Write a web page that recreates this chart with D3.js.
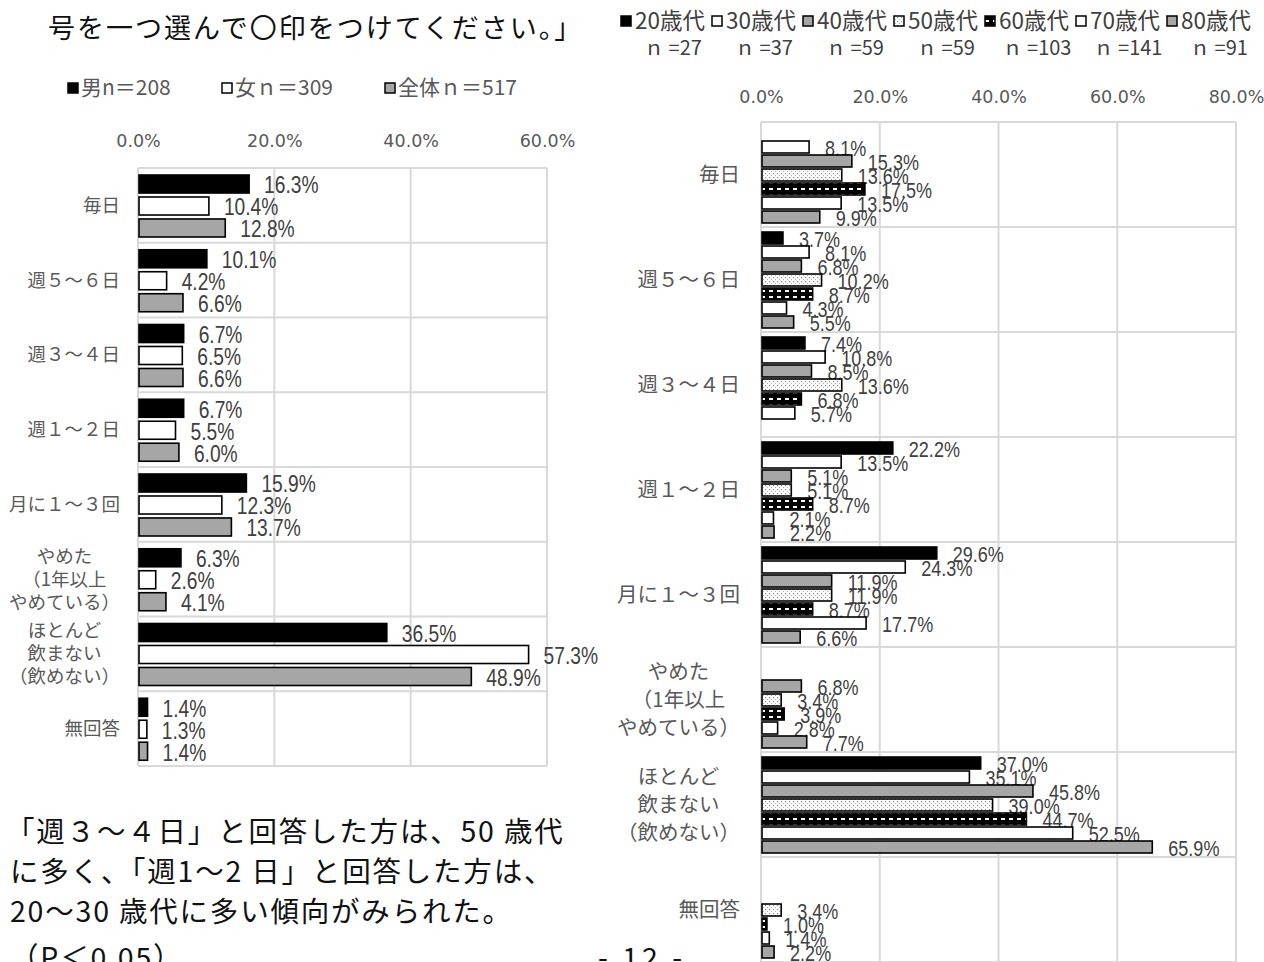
<!DOCTYPE html>
<html>
<head>
<meta charset="utf-8">
<script src="https://cdn.jsdelivr.net/npm/d3@7"></script>
<style>
  body { margin: 0; background: #fff; overflow: hidden; }
  svg { display: block; }
  .jp { font-family: 'Noto Sans CJK JP', sans-serif; }
  .num { font-family: 'Liberation Sans', Arial, sans-serif; }
  .tick { font-family: 'DejaVu Sans', sans-serif; }
</style>
</head>
<body>
<script>
// 飲酒頻度（カテゴリ）
const categories = ['毎日', '週５～６日', '週３～４日', '週１～２日', '月に１～３回',
  'やめた\n（1年以上\nやめている）', 'ほとんど\n飲まない\n（飲めない）', '無回答']

// 性別
const genderNames = ['男n＝208', '女ｎ＝309', '全体ｎ＝517']
const maleValues = [16.3, 10.1, 6.7, 6.7, 15.9, 6.3, 36.5, 1.4]
const femaleValues = [10.4, 4.2, 6.5, 5.5, 12.3, 2.6, 57.3, 1.3]
const totalValues = [12.8, 6.6, 6.6, 6.0, 13.7, 4.1, 48.9, 1.4]
const leftTicks = [0, 20, 40, 60]

// 年代別
const ageNames = ['20歳代', '30歳代', '40歳代', '50歳代', '60歳代', '70歳代', '80歳代']
const ageCounts = ['ｎ =27', 'ｎ =37', 'ｎ =59', 'ｎ =59', 'ｎ =103', 'ｎ =141', 'ｎ =91']
const age20 = [0, 3.7, 7.4, 22.2, 29.6, 0, 37.0, 0]
const age30 = [8.1, 8.1, 10.8, 13.5, 24.3, 0, 35.1, 0]
const age40 = [15.3, 6.8, 8.5, 5.1, 11.9, 6.8, 45.8, 0]
const age50 = [13.6, 10.2, 13.6, 5.1, 11.9, 3.4, 39.0, 3.4]
const age60 = [17.5, 8.7, 6.8, 8.7, 8.7, 3.9, 44.7, 1.0]
const age70 = [13.5, 4.3, 5.7, 2.1, 17.7, 2.8, 52.5, 1.4]
const age80 = [9.9, 5.5, 0, 2.2, 6.6, 7.7, 65.9, 2.2]
const rightTicks = [0, 20, 40, 60, 80]

const grid = '#d9d9d9'
const labelGray = '#595959'
const valueGray = '#404040'

const svg = d3.select('body').append('svg')
  .attr('width', 1264)
  .attr('height', 962)

const defs = svg.append('defs')
const dots = defs.append('pattern')
  .attr('id', 'dots').attr('patternUnits', 'userSpaceOnUse')
  .attr('width', 4).attr('height', 4)
dots.append('rect').attr('width', 4).attr('height', 4).attr('fill', '#fff')
dots.append('rect').attr('x', 1).attr('y', 1).attr('width', 1.2).attr('height', 1.2).attr('fill', '#8c8c8c')
dots.append('rect').attr('x', 3).attr('y', 3).attr('width', 1.2).attr('height', 1.2).attr('fill', '#b0b0b0')

const dashes = defs.append('pattern')
  .attr('id', 'dashes').attr('patternUnits', 'userSpaceOnUse')
  .attr('width', 8).attr('height', 6)
dashes.append('rect').attr('width', 8).attr('height', 6).attr('fill', '#000')
dashes.append('rect').attr('x', 1).attr('y', 2).attr('width', 4).attr('height', 2).attr('fill', '#fff')

const genderFill = ['#000', '#fff', '#a6a6a6']
const ageFill = ['#000', '#fff', '#a6a6a6', 'url(#dots)', 'url(#dashes)', '#fff', '#a6a6a6']

// 上部のテキスト
svg.append('text').attr('class', 'jp')
  .attr('x', 48).attr('y', 38)
  .attr('font-size', 27).attr('letter-spacing', 2).attr('fill', '#111')
  .text('号を一つ選んで〇印をつけてください。」')

// 左下の本文
const bodyLines = ['「週３～４日」と回答した方は、50 歳代', 'に多く、「週1～2 日」と回答した方は、',
  '20～30 歳代に多い傾向がみられた。', '（P＜0.05）']
svg.selectAll('.body-line')
  .data(bodyLines)
  .enter().append('text')
    .attr('class', 'jp body-line')
    .attr('x', (d, i) => i === 0 ? 6 : 10)
    .attr('y', (d, i) => 842 + i * 40 + (i === 3 ? 6 : 0))
    .attr('font-size', 28.5)
    .attr('letter-spacing', 1.8)
    .attr('fill', '#111')
    .text(d => d)

svg.append('text').attr('class', 'jp')
  .attr('x', 642).attr('y', 968)
  .attr('text-anchor', 'middle')
  .attr('font-size', 28.5).attr('letter-spacing', 4).attr('fill', '#111')
  .text('- 12 -')

function drawCategoryLabels (g, y, right, size, lineStep) {
  categories.forEach((c, i) => {
    const lines = c.split('\n')
    const cy = y(c) + y.bandwidth() / 2
    const t = g.append('text').attr('class', 'jp')
      .attr('font-size', size).attr('fill', labelGray)
      .attr('text-anchor', 'middle')
    lines.forEach((l, j) => {
      t.append('tspan')
        .attr('y', cy + (j - (lines.length - 1) / 2) * lineStep)
        .attr('dy', '0.35em')
        .text(l)
    })
    let w = 0
    t.selectAll('tspan').each(function () { w = Math.max(w, this.getComputedTextLength()) })
    t.selectAll('tspan').attr('x', right - w / 2)
  })
}

function drawChart (opts) {
  const g = svg.append('g')
  const x = d3.scaleLinear().domain(opts.domain).range([opts.left, opts.right])
  const y = d3.scaleBand().domain(categories).range([opts.top, opts.bottom])
  const inner = d3.scaleBand().domain(d3.range(opts.series.length))
    .range(opts.innerRange).paddingInner(opts.innerPad)

  // grid
  g.selectAll('.vgrid').data(opts.ticks).enter().append('line')
    .attr('x1', d => x(d)).attr('x2', d => x(d))
    .attr('y1', opts.top).attr('y2', opts.bottom)
    .attr('stroke', grid).attr('stroke-width', 2)
  g.selectAll('.hgrid').data(d3.range(categories.length + 1)).enter().append('line')
    .attr('x1', opts.left).attr('x2', opts.right)
    .attr('y1', d => opts.top + d * y.step()).attr('y2', d => opts.top + d * y.step())
    .attr('stroke', grid).attr('stroke-width', 2)

  // axis
  const axis = g.append('g')
    .attr('transform', 'translate(0,' + (opts.top - opts.tickGap) + ')')
    .call(d3.axisTop(x).tickValues(opts.ticks).tickSize(0).tickFormat(d => d.toFixed(1) + '%'))
  axis.select('.domain').remove()
  axis.selectAll('text')
    .attr('class', 'tick')
    .attr('font-size', 17.5)
    .attr('fill', labelGray)
    .attr('dy', '0.35em')
    .attr('y', 0)

  // bars
  opts.series.forEach((vals, s) => {
    const rows = vals.map((v, i) => ({ v, c: categories[i] })).filter(d => d.v > 0)
    g.selectAll('.bar-' + s).data(rows).enter().append('rect')
      .attr('x', x(0) + 1)
      .attr('y', d => y(d.c) + inner(s))
      .attr('width', d => x(d.v) - x(0) - 1)
      .attr('height', inner.bandwidth())
      .attr('fill', opts.fills[s])
      .attr('stroke', '#000')
      .attr('stroke-width', 1.6)
    // narrow value labels
    g.selectAll('.lab-' + s).data(rows).enter().append('text')
      .attr('class', 'num')
      .attr('transform', d => 'translate(' + (x(d.v) + opts.labelGap) + ',' +
        (y(d.c) + inner(s) + inner.bandwidth() / 2 + 1) + ') scale(' + opts.labelSqueeze + ',1)')
      .attr('dy', '0.35em')
      .attr('font-size', opts.labelSize)
      .attr('fill', valueGray)
      .text(d => d.v.toFixed(1) + '%')
  })

  drawCategoryLabels(g, y, opts.labelRight, opts.catSize, opts.catStep)
}

drawChart({
  domain: [0, 60], left: 138, right: 547, top: 168, bottom: 766,
  ticks: leftTicks, tickGap: 27,
  series: [maleValues, femaleValues, totalValues], fills: genderFill,
  innerRange: [7, 69], innerPad: 0.18,
  labelGap: 15, labelSize: 24, labelSqueeze: 0.8, labelRight: 120, catSize: 18.5, catStep: 23
})

drawChart({
  domain: [0, 80], left: 761, right: 1236, top: 122, bottom: 962,
  ticks: rightTicks, tickGap: 25,
  series: [age20, age30, age40, age50, age60, age70, age80], fills: ageFill,
  innerRange: [5, 101], innerPad: 0.143,
  labelGap: 16, labelSize: 22, labelSqueeze: 0.82, labelRight: 740, catSize: 20.5, catStep: 28
})

// legends
const legL = svg.append('g')
const legLx = [68, 222, 385]
genderNames.forEach((n, i) => {
  legL.append('rect')
    .attr('x', legLx[i]).attr('y', 83).attr('width', 10).attr('height', 10)
    .attr('fill', genderFill[i]).attr('stroke', '#000').attr('stroke-width', 1.5)
  legL.append('text').attr('class', 'jp')
    .attr('x', legLx[i] + 13).attr('y', 88).attr('dy', '0.35em')
    .attr('font-size', 21).attr('fill', labelGray)
    .text(n)
})

const legR = svg.append('g')
const legRx = [621, 712, 803, 894, 985, 1076, 1167]
ageNames.forEach((n, i) => {
  legR.append('rect')
    .attr('x', legRx[i]).attr('y', 16).attr('width', 10).attr('height', 10)
    .attr('fill', ageFill[i]).attr('stroke', '#000').attr('stroke-width', 1.5)
  legR.append('text').attr('class', 'jp')
    .attr('x', legRx[i] + 14).attr('y', 21).attr('dy', '0.35em')
    .attr('font-size', 22.5).attr('fill', valueGray)
    .text(n)
  legR.append('text').attr('class', 'jp')
    .attr('x', legRx[i] + 52).attr('y', 48).attr('dy', '0.35em')
    .attr('text-anchor', 'middle')
    .attr('font-size', 20).attr('fill', valueGray)
    .text(ageCounts[i])
})
</script>
</body>
</html>
